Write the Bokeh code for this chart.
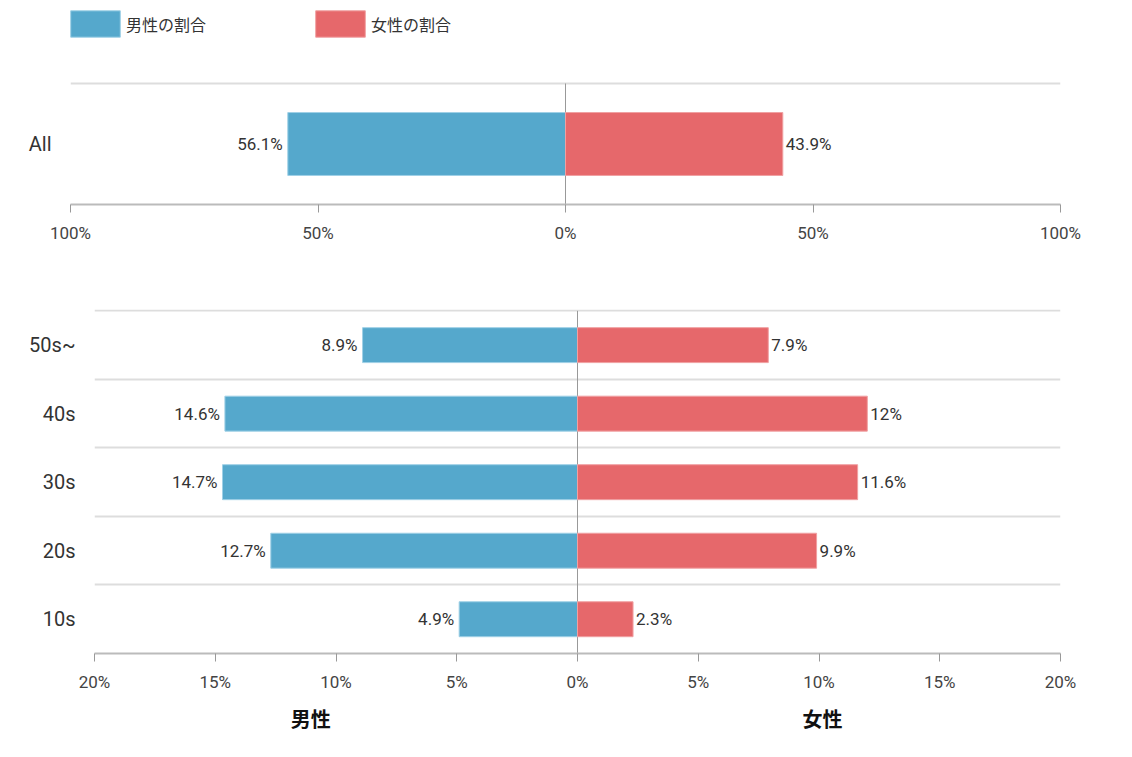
from bokeh.plotting import figure
from bokeh.models import (ColumnDataSource, Range1d, FixedTicker, Span, Legend,
                          LegendItem, LinearAxis)
from bokeh.embed import file_html
from bokeh.resources import INLINE
from bokeh.core.properties import value

# ---------------- data ----------------
all_categories = ["All"]
all_male = [56.1]
all_female = [43.9]

age_categories = ["10s", "20s", "30s", "40s", "50s~"]
age_male = [4.9, 12.7, 14.7, 14.6, 8.9]
age_female = [2.3, 9.9, 11.6, 12, 7.9]

top_ticks = [-100, -50, 0, 50, 100]
bottom_ticks = [-20, -15, -10, -5, 0, 5, 10, 15, 20]

legend_labels = ["男性の割合", "女性の割合"]
axis_titles = ["男性", "女性"]
axis_title_pos = [-11.05, 10.15]

# ---------------- style ----------------
BLUE = "#55a8cc"
RED = "#e6686b"
LATIN = "Roboto"
CJK = "Noto Sans CJK JP"


def fmt(v):
    return f"{v:g}%"


def make_source(cats, male, female):
    idx = list(range(len(cats)))
    return ColumnDataSource(dict(
        y=idx,
        male_left=[-v for v in male],
        female=female,
        zero=[0] * len(cats),
        male_text=[fmt(v) for v in male],
        female_text=[fmt(v) for v in female],
    ))


def style(p, cats, ticks):
    n = len(cats)
    p.outline_line_color = None
    p.xgrid.visible = False
    p.ygrid.ticker = FixedTicker(ticks=[i + 0.5 for i in range(n)])
    p.ygrid.grid_line_color = "#dddddd"
    p.ygrid.grid_line_width = 2

    xa = p.xaxis[0]
    xa.ticker = FixedTicker(ticks=ticks)
    xa.major_label_overrides = {t: f"{abs(t)}%" for t in ticks}
    xa.axis_line_color = "#bbbbbb"
    xa.axis_line_width = 2
    xa.major_tick_line_color = "#999999"
    xa.major_tick_out = 8
    xa.major_tick_in = 0
    xa.minor_tick_line_color = None
    xa.major_label_text_font = LATIN
    xa.major_label_text_font_size = "17px"
    xa.major_label_text_color = "#444444"
    xa.major_label_standoff = 10

    ya = p.yaxis[0]
    ya.ticker = FixedTicker(ticks=list(range(n)))
    ya.major_label_overrides = {i: c for i, c in enumerate(cats)}
    ya.axis_line_color = None
    ya.major_tick_line_color = None
    ya.minor_tick_line_color = None
    ya.major_label_text_font = LATIN
    ya.major_label_text_font_size = "20px"
    ya.major_label_text_color = "#333333"
    ya.major_label_standoff = 13


def bars(p, src, bar_h):
    rm = p.hbar(y="y", left="male_left", right="zero", height=bar_h, source=src,
                fill_color=BLUE, line_color="#9fd0e6", line_width=1)
    rf = p.hbar(y="y", left="zero", right="female", height=bar_h, source=src,
                fill_color=RED, line_color="#f0a0a2", line_width=1)
    p.text(x="male_left", y="y", text="male_text", source=src,
           text_align="right", text_baseline="middle", x_offset=-5,
           text_font=value(LATIN), text_font_size="17px", text_color="#333333")
    p.text(x="female", y="y", text="female_text", source=src,
           text_align="left", text_baseline="middle", x_offset=3,
           text_font=value(LATIN), text_font_size="17px", text_color="#333333")
    return rm, rf


# ---------------- top figure (legend + overall split) ----------------
TOP_PX = 121.0   # pixels per category row in the top chart
LEGEND_PX = 83.0  # space above the top gridline, holding the legend
p1 = figure(width=1116, height=258, min_border_left=70,
            min_border_right=56, min_border_top=0, min_border_bottom=54,
            x_range=Range1d(-100, 100),
            y_range=Range1d(-0.5, 0.5 + LEGEND_PX / TOP_PX),
            output_backend="svg", toolbar_location=None)
style(p1, all_categories, top_ticks)
p1.segment(x0=0, y0=-0.5, x1=0, y1=len(all_categories) - 0.5,
           line_color="#999999", line_width=1)
rm, rf = bars(p1, make_source(all_categories, all_male, all_female), 0.52)

legend = Legend(items=[LegendItem(label=legend_labels[0], renderers=[rm]),
                       LegendItem(label=legend_labels[1], renderers=[rf])],
                orientation="horizontal", location=(-6, 164),
                glyph_width=62, glyph_height=33, label_standoff=0,
                label_width=183, spacing=0, padding=0, margin=0,
                border_line_color=None, background_fill_alpha=0,
                label_text_font=CJK, label_text_font_size="16px",
                label_text_color="#333333")
p1.add_layout(legend)

# ---------------- bottom figure (by age) ----------------
n_age = len(age_categories)
p2 = figure(width=1116, height=492, min_border_left=94,
            min_border_right=56, min_border_top=51, min_border_bottom=97,
            x_range=Range1d(-20, 20),
            y_range=Range1d(-0.5, n_age - 0.5 + 0.02),
            output_backend="svg", toolbar_location=None)
style(p2, age_categories, bottom_ticks)
p2.segment(x0=0, y0=-0.5, x1=0, y1=n_age - 0.5,
           line_color="#999999", line_width=1)
bars(p2, make_source(age_categories, age_male, age_female), 0.51)

title_axis = LinearAxis(ticker=FixedTicker(ticks=axis_title_pos),
                        major_label_overrides=dict(zip(axis_title_pos, axis_titles)),
                        axis_line_color=None, major_tick_line_color=None,
                        minor_tick_line_color=None, major_tick_out=0,
                        major_tick_in=0, major_label_standoff=9,
                        major_label_text_font=CJK,
                        major_label_text_font_size="20px",
                        major_label_text_font_style="bold",
                        major_label_text_color="#111111")
p2.add_layout(title_axis, "below")

open("out.html", "w").write(file_html([p1, p2], INLINE))
